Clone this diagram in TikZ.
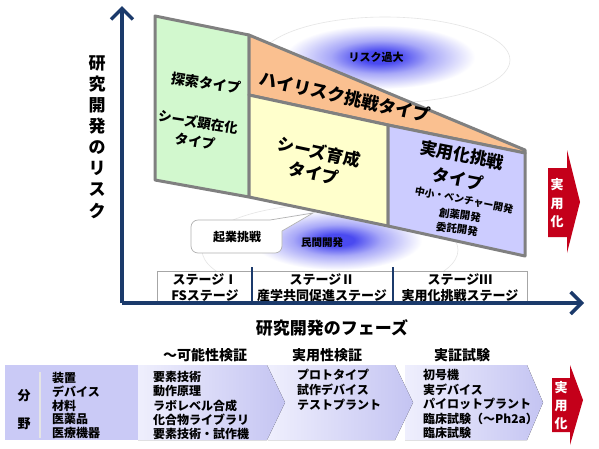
\documentclass[tikz,border=0pt]{standalone}
\usepackage{fontspec}
\setmainfont{Noto Sans CJK JP}
\usetikzlibrary{arrows.meta}
\definecolor{navy}{HTML}{1B3A6B}
\definecolor{pgray}{HTML}{808080}
\definecolor{cgreen}{HTML}{D2F8CE}
\definecolor{corange}{HTML}{FAC090}
\definecolor{cyellow}{HTML}{FFFFCC}
\definecolor{clav}{HTML}{CCCCFF}
\definecolor{lavL}{HTML}{EFEFFD}
\definecolor{lavR}{HTML}{C4C4F2}
\definecolor{lavS}{HTML}{CACAF6}
\definecolor{cred}{HTML}{C4001A}
\definecolor{glowc}{HTML}{4A4AF0}
\definecolor{glowm}{HTML}{A8A8F8}
\pgfdeclareradialshading{glow}{\pgfpoint{0bp}{0bp}}{color(0bp)=(glowc); color(5bp)=(glowc); color(13bp)=(glowm); color(25bp)=(white); color(50bp)=(white)}
\newcommand\fs[1]{\fontsize{#1}{#1}\selectfont\bfseries}
\tikzset{
  panel/.style={draw=pgray, line width=3pt, line join=round},
  txt/.style={inner sep=0pt, text=black},
  ltxt/.style={txt, anchor=west, font=\fs{12}},
  head/.style={txt, font=\fs{14}},
  wtxt/.style={inner sep=0pt, text=white, font=\fs{13}},
  faint/.style={draw=black!10, line width=0.6pt, fill=white},
  axis/.style={draw=navy, line width=3.5pt, -{Straight Barb[length=11pt,width=22pt]}},
  seg/.style={left color=lavL, right color=lavR},
}
\begin{document}
\begin{tikzpicture}[x=1pt,y=-1pt]
\useasboundingbox (0,0) rectangle (599,448);
\fill[white] (0,0) rectangle (599,448);

% faint halos
\draw[faint] (385,60) ellipse (125 and 43);
\draw[faint] (330,250) ellipse (128 and 46);
% glows
\shade[shading=glow] (380,57) ellipse (95 and 32);
\shade[shading=glow] (337,240) ellipse (85 and 30);
\node[txt, font=\fs{11}] (risk) at (376,57) {リスク過大};

% panels
\filldraw[panel, fill=cgreen] (155,16) -- (249,35) -- (249,197) -- (155,180) -- cycle;
\filldraw[panel, fill=corange] (249,35) -- (525,150) -- (525,153) -- (388,125) -- (249,95) -- cycle;
\filldraw[panel, fill=cyellow] (249,95) -- (388,125) -- (388,226) -- (249,197) -- cycle;
\filldraw[panel, fill=clav] (388,125) -- (525,153) -- (525,256) -- (388,226) -- cycle;

\node[txt, font=\fs{14}, rotate=-8] (tansaku) at (206,83) {探索タイプ};
\node[txt, font=\fs{13.5}, rotate=-9] (kenzai) at (198,122) {シーズ顕在化};
\node[txt, font=\fs{13.5}, rotate=-9] (kenzai2) at (195,141) {タイプ};
\node[txt, font=\fs{17.5}, rotate=-12.5] (high) at (345,97) {ハイリスク挑戦タイプ};
\node[txt, font=\fs{17}, rotate=-12] (ikusei) at (319,152) {シーズ育成};
\node[txt, font=\fs{17}, rotate=-12] (ikusei2) at (314,173) {タイプ};
\node[txt, font=\fs{17}, rotate=-11] (jitsu) at (462,155) {実用化挑戦};
\node[txt, font=\fs{17}, rotate=-11] (jitsu2) at (458,179) {タイプ};
\node[txt, font=\fs{10}, rotate=-11] (venture) at (464,200) {中小・ベンチャー開発};
\node[txt, font=\fs{10.5}, rotate=-8] (souyaku) at (460,215) {創薬開発};
\node[txt, font=\fs{10.5}, rotate=-8] (itaku) at (457,229) {委託開発};

\node[txt, font=\fs{10.5}] (minkan) at (322,243) {民間開発};

% callout
\draw[draw=black!30, line width=0.7pt, fill=white, rounded corners=7pt]
  (230,220) -- (262,220) [sharp corners] -- (270,220) -- (313,213) -- (282,231)
  [rounded corners=7pt] -- (282,253) -- (191,253) -- (191,220) -- cycle;
\node[txt, font=\fs{12}] (kigyo) at (237,237) {起業挑戦};

% stage box
\draw[draw=black!35, line width=0.8pt, fill=white] (157,271) rectangle (527,303);
\draw[navy, line width=2pt] (252,267) -- (252,303);
\draw[navy, line width=2pt] (393,267) -- (393,303);
\node[txt, font=\fs{13}] (s1a) at (205,280) {ステージⅠ};
\node[txt, font=\fs{13}] (s1b) at (205,296) {FSステージ};
\node[txt, font=\fs{13}] (s2a) at (322,280) {ステージⅡ};
\node[txt, font=\fs{13}] (s2b) at (322,296) {産学共同促進ステージ};
\node[txt, font=\fs{13}] (s3a) at (460,280) {ステージⅢ};
\node[txt, font=\fs{13}] (s3b) at (460,296) {実用化挑戦ステージ};

% axes
\coordinate (O) at (122,303);
\coordinate (ytop) at (122,6);
\coordinate (xend) at (584,303);
\draw[axis] (O) -- (ytop);
\draw[axis] (O) -- (xend);
\foreach \t [count=\i] in {研,究,開,発,の,リ,ス,ク}
  \node[txt, font=\fs{17}] (yl\i) at (97,{63+(\i-1)*21.1}) {\t};
\node[txt, font=\fs{17}] (xl) at (332,328) {研究開発のフェーズ};

% red arrows
\fill[cred] (548,168) -- (567,168) -- (567,150) -- (580,202) -- (567,253) -- (567,237) -- (548,237) -- cycle;
\node[wtxt] (r1) at (557,185) {実};
\node[wtxt] (r2) at (557,204) {用};
\node[wtxt] (r3) at (557,222) {化};

% bottom band
\fill[seg] (405,365) -- (527,365) -- (543,402.5) -- (527,440) -- (405,440) -- cycle;
\fill[seg] (268,365) -- (395,365) -- (413,402.5) -- (395,440) -- (268,440) -- cycle;
\fill[seg] (138,365) -- (267,365) -- (285,402.5) -- (267,440) -- (138,440) -- cycle;
\fill[lavS] (5,365) rectangle (138,440);
\draw[white!80!gray, line width=2pt] (40,372) -- (40,438);
\node[txt, font=\fs{13}] (bun) at (24,396) {分};
\node[txt, font=\fs{13}] (ya) at (24,424) {野};
\foreach \t [count=\i] in {装置,デバイス,材料,医薬品,医療機器}
  \node[ltxt] (fa\i) at (52,{378+(\i-1)*13.75}) {\t};
\foreach \t [count=\i] in {要素技術,動作原理,ラボレベル合成,化合物ライブラリ,要素技術・試作機}
  \node[ltxt] (fb\i) at (153,{377+(\i-1)*14.25}) {\t};
\foreach \t [count=\i] in {プロトタイプ,試作デバイス,テストプラント}
  \node[ltxt] (fc\i) at (297,{375+(\i-1)*15}) {\t};
\foreach \t [count=\i] in {初号機,実デバイス,パイロットプラント,臨床試験（～Ph2a）,臨床試験}
  \node[ltxt] (fd\i) at (423,{375+(\i-1)*14.5}) {\t};
\node[head] (h1) at (205,355) {～可能性検証};
\node[head] (h2) at (327,355) {実用性検証};
\node[head] (h3) at (462,355) {実証試験};

\fill[cred] (552,378) -- (570,378) -- (570,365) -- (583,400) -- (570,445) -- (570,432) -- (552,432) -- cycle;
\node[wtxt] (q1) at (561,388) {実};
\node[wtxt] (q2) at (561,406) {用};
\node[wtxt] (q3) at (561,424) {化};
\end{tikzpicture}
\end{document}
